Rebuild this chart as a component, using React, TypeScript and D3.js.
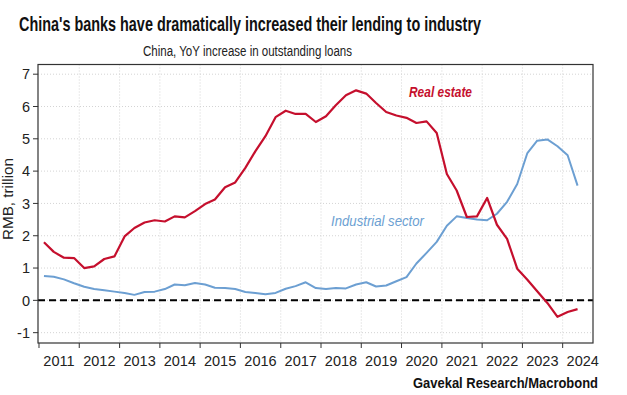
import React, { useRef, useEffect } from 'react';
import * as d3 from 'd3';

// quarterly readings, Feb 2011 .. May 2024 (RMB trillion, YoY increase)
const realEstate = [
  1.80, 1.50, 1.32, 1.31, 1.00, 1.05, 1.28, 1.36, 1.98, 2.24,
  2.41, 2.48, 2.44, 2.60, 2.57, 2.76, 2.98, 3.12, 3.50, 3.65,
  4.10, 4.61, 5.08, 5.67, 5.87, 5.77, 5.77, 5.52, 5.70, 6.04,
  6.35, 6.50, 6.40, 6.11, 5.83, 5.72, 5.65, 5.49, 5.54, 5.18,
  3.91, 3.40, 2.58, 2.60, 3.17, 2.34, 1.90, 0.98, 0.64, 0.28,
  -0.08, -0.51, -0.36, -0.27,
];
const industrial = [
  0.75, 0.73, 0.65, 0.53, 0.42, 0.35, 0.31, 0.27, 0.23, 0.17,
  0.26, 0.27, 0.35, 0.49, 0.47, 0.54, 0.49, 0.39, 0.38, 0.35,
  0.26, 0.23, 0.19, 0.23, 0.36, 0.44, 0.56, 0.38, 0.35, 0.38,
  0.37, 0.49, 0.56, 0.43, 0.46, 0.59, 0.72, 1.14, 1.47, 1.81,
  2.31, 2.60, 2.55, 2.50, 2.48, 2.68, 3.05, 3.60, 4.56, 4.94,
  4.98, 4.77, 4.49, 3.55,
];
const years = [2011, 2012, 2013, 2014, 2015, 2016, 2017, 2018, 2019, 2020, 2021, 2022, 2023, 2024];
const yTicks = [-1, 0, 1, 2, 3, 4, 5, 6, 7];

const RED = '#c50f2d';
const BLUE = '#6c9fd2';
const FONT = '"Liberation Sans", Arial, sans-serif';

const Chart = () => {
  const svgRef = useRef(null);

  useEffect(() => {
    const left = 38, right = 593, top = 64.5, bottom = 343;
    const dates = realEstate.map((_, i) => new Date(2011, 1 + 3 * i, 15));

    const svg = d3.select(svgRef.current);
    svg.selectAll('*').remove();

    const x = d3.scaleTime()
      .domain([new Date(2010, 11, 23), new Date(2024, 9, 2)])
      .range([left, right]);
    const y = d3.scaleLinear()
      .domain([-1.32, 7.3])
      .range([bottom, top]);

    // grid
    const grid = svg.append('g')
      .attr('stroke', '#d4d4d4')
      .attr('stroke-dasharray', '1,2')
      .attr('stroke-width', 1);
    grid.selectAll('.gv')
      .data(years.slice(1))
      .enter().append('line')
      .attr('x1', d => x(new Date(d, 0, 1))).attr('x2', d => x(new Date(d, 0, 1)))
      .attr('y1', top).attr('y2', bottom);
    grid.selectAll('.gh')
      .data(yTicks)
      .enter().append('line')
      .attr('x1', left).attr('x2', right)
      .attr('y1', d => y(d)).attr('y2', d => y(d));

    // zero line
    svg.append('line')
      .attr('x1', left).attr('x2', right)
      .attr('y1', y(0)).attr('y2', y(0))
      .attr('stroke', '#000')
      .attr('stroke-width', 2)
      .attr('stroke-dasharray', '7,4');

    // series
    const line = d3.line()
      .x((d, i) => x(dates[i]))
      .y(d => y(d));
    svg.append('path')
      .datum(industrial)
      .attr('d', line)
      .attr('fill', 'none')
      .attr('stroke', BLUE)
      .attr('stroke-width', 2)
      .attr('stroke-linejoin', 'round');
    svg.append('path')
      .datum(realEstate)
      .attr('d', line)
      .attr('fill', 'none')
      .attr('stroke', RED)
      .attr('stroke-width', 2.2)
      .attr('stroke-linejoin', 'round');

    // frame
    svg.append('rect')
      .attr('x', left).attr('y', top)
      .attr('width', right - left).attr('height', bottom - top)
      .attr('fill', 'none')
      .attr('stroke', '#333')
      .attr('stroke-width', 1.2);

    // y axis ticks + labels
    const ya = svg.append('g');
    ya.selectAll('line')
      .data(yTicks)
      .enter().append('line')
      .attr('x1', left - 5).attr('x2', left)
      .attr('y1', d => y(d)).attr('y2', d => y(d))
      .attr('stroke', '#333');
    ya.selectAll('text')
      .data(yTicks)
      .enter().append('text')
      .attr('x', 30)
      .attr('y', d => y(d))
      .attr('dy', '0.36em')
      .attr('text-anchor', 'end')
      .attr('font-family', FONT)
      .attr('font-size', 14.5)
      .attr('fill', '#222')
      .text(d => d);

    // x axis ticks + labels
    const xa = svg.append('g');
    xa.selectAll('line')
      .data(years)
      .enter().append('line')
      .attr('x1', d => x(new Date(d, 0, 1))).attr('x2', d => x(new Date(d, 0, 1)))
      .attr('y1', bottom).attr('y2', bottom + 5)
      .attr('stroke', '#333');
    xa.selectAll('text')
      .data(years)
      .enter().append('text')
      .attr('x', d => x(new Date(d, 6, 1)))
      .attr('y', 365.5)
      .attr('text-anchor', 'middle')
      .attr('font-family', FONT)
      .attr('font-size', 14.5)
      .attr('fill', '#222')
      .text(d => d);

    // axis title
    svg.append('text')
      .attr('transform', 'translate(13,199) rotate(-90)')
      .attr('text-anchor', 'middle')
      .attr('font-family', FONT)
      .attr('font-size', 14.5)
      .attr('fill', '#222')
      .attr('textLength', 82)
      .attr('lengthAdjust', 'spacingAndGlyphs')
      .text('RMB, trillion');

    // series labels
    svg.append('text')
      .attr('x', 409).attr('y', 96.5)
      .attr('font-family', FONT)
      .attr('font-size', 14)
      .attr('font-weight', 'bold')
      .attr('font-style', 'italic')
      .attr('fill', RED)
      .attr('textLength', 63)
      .attr('lengthAdjust', 'spacingAndGlyphs')
      .text('Real estate');
    svg.append('text')
      .attr('x', 331).attr('y', 226)
      .attr('font-family', FONT)
      .attr('font-size', 14)
      .attr('font-style', 'italic')
      .attr('fill', BLUE)
      .attr('textLength', 93)
      .attr('lengthAdjust', 'spacingAndGlyphs')
      .text('Industrial sector');

    // titles (smaller font stretched vertically to mimic a condensed face)
    svg.append('text')
      .attr('transform', 'translate(19,30.5) scale(1,1.28)')
      .attr('font-family', FONT)
      .attr('font-size', 16)
      .attr('font-weight', 'bold')
      .attr('fill', '#111')
      .attr('textLength', 462)
      .attr('lengthAdjust', 'spacingAndGlyphs')
      .text("China's banks have dramatically increased their lending to industry");
    svg.append('text')
      .attr('transform', 'translate(143,55.5) scale(1,1.15)')
      .attr('font-family', FONT)
      .attr('font-size', 12.5)
      .attr('fill', '#222')
      .attr('textLength', 209)
      .attr('lengthAdjust', 'spacingAndGlyphs')
      .text('China, YoY increase in outstanding loans');
    svg.append('text')
      .attr('transform', 'translate(413,387.5) scale(1,1.15)')
      .attr('font-family', FONT)
      .attr('font-size', 12.5)
      .attr('font-weight', 'bold')
      .attr('fill', '#111')
      .attr('textLength', 185)
      .attr('lengthAdjust', 'spacingAndGlyphs')
      .text('Gavekal Research/Macrobond');
  }, []);

  return (
    <svg
      ref={svgRef}
      width={627}
      height={395}
      style={{ position: 'absolute', left: 0, top: 0, background: '#fff' }}
    ></svg>
  );
};

export default function App() {
  return <Chart />;
}
